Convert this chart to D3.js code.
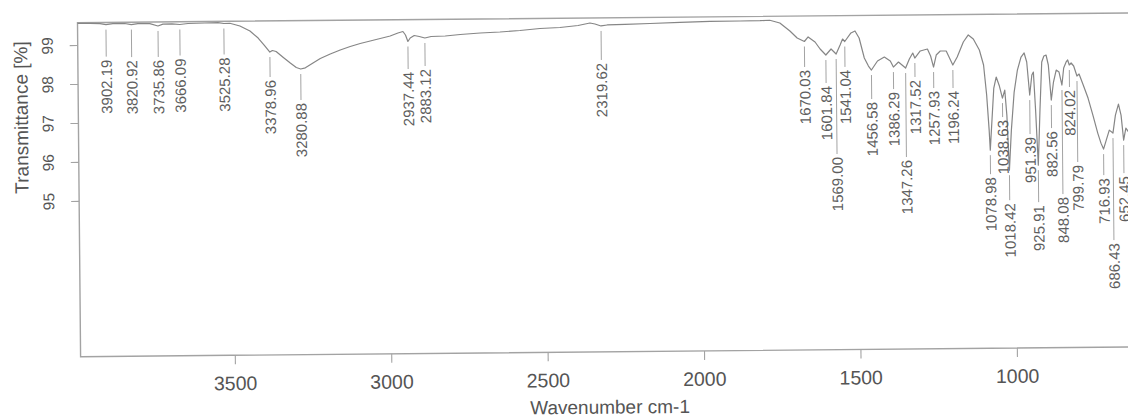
<!DOCTYPE html>
<html><head><meta charset="utf-8">
<script src="https://cdn.jsdelivr.net/npm/d3@7"></script>
<style>
body{margin:0;background:#fff;}
svg{display:block;font-family:"Liberation Sans",Arial,sans-serif;}
</style>
</head><body>
<svg id="chart" width="1128" height="420"></svg>
<script>
// ---------- data ----------
const waveNumbers = [
3993,3953,3921,3902.19,3880,3842,3820.92,3800,3762,3735.86,3720,3691,3666.09,3640,3586,3544,3525.28,3506,
3474,3442,3416,3397,3378.96,3371,3359,3336,3314,3295,3280.88,3266,3244,3218,3186,3154,3122,3090,3058,3026,
2994,2969,2953,2945,2937.44,2930,2917,2901,2883.12,2863,2818,2770,2706,2643,2579,2515,2451,2393,2355,2339,
2319.62,2300,2243,2163,2067,1971,1875,1811,1780,1748,1716,1693,1670.03,1658,1636,1620,1601.84,1585,1569.00,
1556,1548,1541.04,1521,1508,1495,1479,1466,1456.58,1437,1415,1396,1386.29,1370,1347.26,1335,1324,1317.52,
1300,1277,1267,1257.93,1249,1236,1217,1196.24,1182,1162,1146,1130,1111,1098,1089,1082,1078.98,1074,1066,
1058,1048,1038.63,1031,1025,1018.42,1011,1001,990,978,968,960,951.39,944,939,933,925.91,919,912,905,898,891,
882.56,875,866,857,848.08,842,834,829,824.02,818,810,799.79,793,780,765,750,735,725,716.93,708,698,686.43,
678,668,660,652.45,645,636,625];
const transmittance = [
99.558,99.552,99.545,99.517,99.542,99.542,99.512,99.536,99.533,99.470,99.515,99.523,99.503,99.527,99.535,99.543,99.518,99.522,
99.450,99.319,99.137,98.956,98.775,98.813,98.786,98.630,98.487,98.370,98.331,98.360,98.469,98.596,98.709,98.810,98.897,98.972,99.034,99.096,
99.158,99.233,99.270,99.180,99.012,99.102,99.165,99.138,99.098,99.135,99.144,99.179,99.213,99.234,99.268,99.315,99.336,99.383,99.444,99.417,
99.365,99.389,99.398,99.417,99.436,99.455,99.460,99.463,99.471,99.399,99.192,99.010,98.918,99.033,98.903,98.722,98.566,98.719,98.589,
98.820,98.973,98.908,99.126,99.176,98.995,98.480,98.273,98.170,98.400,98.501,98.397,98.241,98.369,98.213,98.443,98.597,98.468,
98.647,98.696,98.516,98.232,98.540,98.642,98.641,98.279,98.484,98.868,99.047,98.943,98.658,98.272,97.500,96.600,96.085,96.700,97.678,
97.960,97.728,97.419,97.624,96.981,95.566,96.594,97.570,98.135,98.468,98.571,98.339,97.490,98.003,98.080,97.103,95.689,97.102,98.335,98.489,98.514,98.257,
97.356,97.819,98.126,98.074,97.739,98.176,98.330,98.381,98.252,98.303,98.225,97.967,98.018,97.735,97.399,96.961,96.497,96.239,96.085,96.315,96.571,96.494,
96.956,97.237,96.954,96.311,96.619,96.515,96.700];
const peakLabels = [3902.19,3820.92,3735.86,3666.09,3525.28,3378.96,3280.88,2937.44,2883.12,2319.62,
1670.03,1601.84,1569.00,1541.04,1456.58,1386.29,1347.26,1317.52,1257.93,1196.24,
1078.98,1038.63,1018.42,951.39,925.91,882.56,848.08,824.02,799.79,716.93,686.43,652.45];
const xTickValues = [3500,3000,2500,2000,1500,1000];
const yTickValues = [95,96,97,98,99];
const xTitle = "Wavenumber cm-1";
const yTitle = "Transmittance [%]";

// ---------- layout ----------
const plot = {left:77.5, top:22.7, bottom:356.7, right:1220};
// how far (px) below the curve each peak label ends (staggering like the instrument print-out)
const labelDrop = [35,35.5,34,34,34,28,34,30.5,31,37,
28.5,31,103,28.4,32,25,92,22,24,26,
27,22,33,42,40,31,112,25,89,29,110,36];

const svg = d3.select('#chart');
const g = svg.append('g').attr('transform','rotate(-0.53,78,23)');

const x = d3.scaleLinear().domain([3993,500]).range([plot.left,1170.2]);
const y = d3.scaleLinear().domain([91,99.573]).range([plot.bottom,plot.top]);

const textCol = '#555', lineCol = '#999', frameCol = '#a3a3a3';

// frame
g.append('rect').attr('x',plot.left).attr('y',plot.top)
 .attr('width',plot.right-plot.left).attr('height',plot.bottom-plot.top)
 .attr('fill','none').attr('stroke',frameCol).attr('stroke-width',1.4);

// x axis
const xAxis = g.append('g').attr('transform',`translate(0,${plot.bottom})`)
 .call(d3.axisBottom(x).tickValues(xTickValues).tickSize(9).tickPadding(12).tickFormat(d3.format('d')));
xAxis.select('.domain').remove();
xAxis.selectAll('line').attr('stroke',frameCol).attr('stroke-width',1.1);
xAxis.selectAll('text').attr('fill',textCol).style('font-size','19.5px').style('font-family','"Liberation Sans",Arial,sans-serif');

// y axis
const yAxis = g.append('g').attr('transform',`translate(${plot.left},0)`)
 .call(d3.axisLeft(y).tickValues(yTickValues).tickSize(8).tickFormat(d3.format('d')));
yAxis.select('.domain').remove();
yAxis.selectAll('line').attr('stroke',frameCol).attr('stroke-width',1.1);
yAxis.selectAll('text')
 .attr('x',null).attr('dy',null)
 .attr('text-anchor','middle').attr('dominant-baseline','central')
 .attr('transform','translate(-30.5,0) rotate(-90)')
 .attr('fill',textCol).style('font-size','15.5px').style('font-family','"Liberation Sans",Arial,sans-serif');

// titles
g.append('text').attr('x',606.5).attr('y',412).attr('text-anchor','middle').attr('dominant-baseline','central')
 .attr('fill',textCol).style('font-size','19px').text(xTitle);
g.append('text').attr('transform','translate(20.5,117) rotate(-90)').attr('text-anchor','middle').attr('dominant-baseline','central')
 .attr('fill',textCol).style('font-size','19px').text(yTitle);

// spectrum
const pts = waveNumbers.map((w,i)=>({w, t:transmittance[i]}));
g.append('path').datum(pts)
 .attr('d', d3.line().x(d=>x(d.w)).y(d=>y(d.t)))
 .attr('fill','none').attr('stroke','#868686').attr('stroke-width',1.2).attr('stroke-linejoin','round');

// peak labels
const tAt = w => transmittance[waveNumbers.indexOf(w)];
const lab = g.append('g');
peakLabels.forEach((w,i)=>{
  const cy = y(tAt(w));
  const top = cy + labelDrop[i];
  lab.append('line').attr('x1',x(w)).attr('x2',x(w)).attr('y1',cy+5).attr('y2',top-3)
    .attr('stroke',lineCol).attr('stroke-width',0.9);
  lab.append('text').attr('transform',`translate(${x(w)},${top}) rotate(-90)`)
    .attr('text-anchor','end').attr('dominant-baseline','central')
    .attr('fill','#5e5e5e').style('font-size','15px').text(d3.format('.2f')(w));
});
</script>
</body></html>
